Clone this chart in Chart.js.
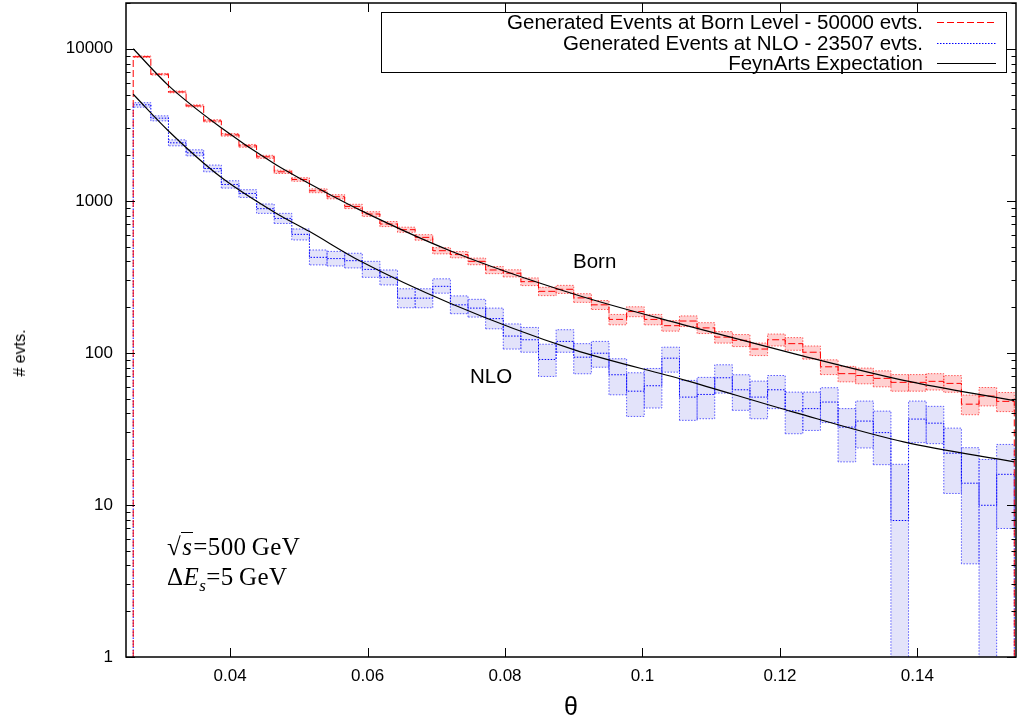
<!DOCTYPE html>
<html>
<head>
<meta charset="utf-8">
<script src="https://cdn.jsdelivr.net/npm/chart.js@4"></script>
<style>
    html, body { margin: 0; padding: 0; background: #fff; }
    #wrap { position: relative; width: 1017px; height: 725px; overflow: hidden; }
    #chart { position: absolute; left: 0; top: 0; }
    .txt { position: absolute; font-family: "Liberation Sans", Arial, sans-serif; font-size: 20.5px; line-height: 20px; color: #000; white-space: nowrap; }
    .tex { position: absolute; font-family: "Liberation Serif", "DejaVu Serif", serif; font-size: 25px; line-height: 26px; letter-spacing: 0.4px; color: #000; white-space: nowrap; }
    .ov { border-top: 1px solid #000; font-style: italic; padding: 0 1px; }
    #legendBox { position: absolute; left: 381px; top: 12px; width: 626px; height: 61px; box-sizing: border-box; border: 1.5px solid #000; background: #fff; }
    .legText { position: absolute; right: 94px; text-align: right; }
    #yTitle { position: absolute; left: 20px; top: 353px; transform: translate(-50%, -50%) rotate(-90deg); font-family: "Liberation Sans", Arial, sans-serif; font-size: 16px; white-space: nowrap; }
</style>
</head>
<body>
<div id="wrap">
    <canvas id="chart" width="1017" height="725"></canvas>
    <div id="legendBox"></div>
    <div class="txt legText" style="top:12px">Generated Events at Born Level - 50000 evts.</div>
    <div class="txt legText" style="top:33px">Generated Events at NLO - 23507 evts.</div>
    <div class="txt legText" style="top:53px">FeynArts Expectation</div>
    <svg style="position:absolute;left:935px;top:12px" width="64" height="60">
        <line x1="2" y1="10.5" x2="61" y2="10.5" stroke="#ff0000" stroke-width="1" stroke-dasharray="7 3"></line>
        <line x1="2" y1="31.5" x2="61" y2="31.5" stroke="#0000ff" stroke-width="1" stroke-dasharray="1.5 1.5"></line>
        <line x1="2" y1="51.5" x2="61" y2="51.5" stroke="#000" stroke-width="1"></line>
    </svg>
    <div class="txt" style="left:573px;top:251px">Born</div>
    <div class="txt" style="left:470px;top:366px">NLO</div>
    <div class="tex" style="left:167px;top:534px">&radic;<span class="ov">s</span>=500&thinsp;GeV</div>
    <div class="tex" style="left:167px;top:564px">&Delta;<i>E<sub style="font-size:17px">s</sub></i>=5&thinsp;GeV</div>
    <div id="yTitle"># evts.</div>
</div>
<script>
// histogram binning in theta
const thetaMin = 0.0259;
const thetaMax = 0.1541;
const nBins = 50;

// Born level histogram (events per bin) and its errors
const bornVal = [8870, 6800, 5205, 4212, 3357, 2717, 2300, 1948, 1552, 1382,
    1165, 1064, 919, 819, 704, 646, 575, 470, 443, 400,
    351, 334, 294, 254, 262, 230, 207, 166, 187, 166,
    151, 162, 146, 127, 121, 106, 122, 115, 101, 81,
    73, 71, 68, 64, 64, 65, 63, 46, 52, 48];
const bornErr = [94, 82, 72, 65, 58, 52, 48, 44, 39, 37,
    34, 33, 30, 29, 27, 25, 24, 22, 21, 20,
    19, 18, 17, 16, 16, 15, 14, 13, 14, 13,
    12, 13, 12, 11, 11, 10, 11, 11, 10, 9,
    8.5, 8.4, 8.2, 8, 8, 8, 7.9, 6.8, 7.2, 6.9];

// NLO histogram: value, lower and upper edge of the error band
const nloVal = [4280, 3497, 2407, 2069, 1632, 1281, 1118, 888, 766, 602,
    425, 417, 404, 354, 314, 229, 229, 274, 207, 197,
    168, 129, 122, 90.5, 119, 93.7, 99.5, 71.8, 56, 60.8,
    92.3, 51.2, 53.3, 68.6, 57.2, 51.2, 57.2, 41.6, 43, 47.5,
    32.5, 35.6, 29.9, 7.9, 36.7, 34.5, 21.9, 13.9, 9.95, 15.9];
const nloLo = [4130, 3357, 2300, 1977, 1552, 1213, 1053, 827, 710, 553,
    379, 373, 362, 314, 280, 198, 198, 247, 181, 172,
    144, 106, 101, 70, 101, 72.9, 80.5, 53, 38.2, 43.4,
    74.7, 36, 36.9, 54.4, 41.9, 36.9, 43, 29.4, 30.9, 34.8,
    19.2, 23.7, 18.4, 0.5, 25.7, 25.3, 11.9, 4.1, 0.5, 7];
const nloHi = [4420, 3622, 2518, 2165, 1718, 1355, 1183, 953, 827, 653,
    475, 465, 452, 400, 351, 264, 264, 307, 237, 225,
    197, 155, 147, 114, 142, 115, 119, 91.5, 74, 79,
    109, 65.9, 69, 83.5, 71.8, 65.2, 71, 55.2, 55.2, 59,
    43, 48.2, 41.4, 18.5, 48.2, 44.5, 32, 23.8, 19.9, 25];

// FeynArts expectation curves
const curveTheta = [0.0259, 0.031, 0.0385, 0.0465, 0.0515, 0.059, 0.072, 0.09, 0.106, 0.122, 0.138, 0.1541];
const bornCurve = [10000, 5750, 3070, 1744, 1300, 865, 470, 244, 153, 99, 66, 48.5];
const nloCurve = [5020, 2890, 1450, 839, 630, 400, 212, 105, 66.5, 40.8, 26, 19.2];

// axes
const xTicks = [0.04, 0.06, 0.08, 0.1, 0.12, 0.14];
const xTickLabels = ['0.04', '0.06', '0.08', '0.1', '0.12', '0.14'];
const yTicks = [1, 10, 100, 1000, 10000];
const yTickLabels = ['1', '10', '100', '1000', '10000'];
const xMin = 0.02485, xMax = 0.15435;
const yMin = 1, yMax = 20000;

const binWidth = (thetaMax - thetaMin) / nBins;
const edges = [];
for (let i = 0; i <= nBins; i++) edges.push(thetaMin + i * binWidth);

function boxPoints(lo, hi) {
    const pts = [];
    for (let i = 0; i < lo.length; i++) {
        const x0 = edges[i], x1 = edges[i + 1];
        pts.push({ x: x0, y: lo[i] }, { x: x0, y: hi[i] }, { x: x1, y: hi[i] }, { x: x1, y: lo[i] }, { x: x0, y: lo[i] }, { x: x1, y: null });
    }
    return pts;
}

function stepPoints(vals) {
    const pts = [{ x: edges[0], y: yMin }];
    vals.forEach((v, i) => pts.push({ x: edges[i], y: v }));
    pts.push({ x: edges[vals.length], y: vals[vals.length - 1] }, { x: edges[vals.length], y: yMin });
    return pts;
}

const fontFamily = '"Liberation Sans", Arial, sans-serif';

// inward tick marks on all four sides plus the frame
const frameTicks = {
    id: 'frameTicks',
    afterDraw(chart) {
        const { ctx, chartArea: a, scales: { x, y } } = chart;
        ctx.save();
        ctx.strokeStyle = '#000';
        ctx.lineWidth = 1;
        ctx.beginPath();
        for (const v of xTicks) {
            const px = Math.round(x.getPixelForValue(v)) + 0.5;
            ctx.moveTo(px, a.bottom);
            ctx.lineTo(px, a.bottom - 9);
            ctx.moveTo(px, a.top);
            ctx.lineTo(px, a.top + 9);
        }
        for (let d = 0; d <= 4; d++) {
            for (let m = 1; m <= 9; m++) {
                const v = m * Math.pow(10, d);
                if (v > yMax) continue;
                const py = Math.round(y.getPixelForValue(v)) + 0.5;
                const len = m === 1 ? 9 : 4.5;
                ctx.moveTo(a.left, py);
                ctx.lineTo(a.left + len, py);
                ctx.moveTo(a.right, py);
                ctx.lineTo(a.right - len, py);
            }
        }
        ctx.stroke();
        ctx.lineWidth = 1.5;
        ctx.strokeRect(a.left, a.top, a.right - a.left, a.bottom - a.top);
        ctx.restore();
    },
};

Chart.defaults.color = '#000';
Chart.defaults.font.family = fontFamily;

new Chart(document.getElementById('chart'), {
    type: 'line',
    data: {
        datasets: [
            {
                label: 'Born band',
                data: boxPoints(bornVal.map((v, i) => v - bornErr[i]), bornVal.map((v, i) => v + bornErr[i])),
                borderColor: 'rgba(255, 40, 40, 0.75)',
                backgroundColor: 'rgba(255, 170, 170, 0.55)',
                borderWidth: 1,
                borderDash: [1.5, 1.5],
                fill: 'shape',
                spanGaps: false,
                pointRadius: 0,
                order: 3,
            },
            {
                label: 'NLO band',
                data: boxPoints(nloLo, nloHi),
                borderColor: 'rgba(40, 40, 255, 0.75)',
                backgroundColor: 'rgba(200, 200, 245, 0.5)',
                borderWidth: 1,
                borderDash: [1.5, 1.5],
                fill: 'shape',
                spanGaps: false,
                pointRadius: 0,
                order: 2,
            },
            {
                label: 'Generated Events at Born Level - 50000 evts.',
                data: stepPoints(bornVal),
                borderColor: '#ff0000',
                borderWidth: 1,
                borderDash: [7, 3],
                stepped: true,
                pointRadius: 0,
                order: 1,
            },
            {
                label: 'Generated Events at NLO - 23507 evts.',
                data: stepPoints(nloVal),
                borderColor: '#0000ff',
                borderWidth: 1,
                borderDash: [1.5, 1.5],
                stepped: true,
                pointRadius: 0,
                order: 1,
            },
            {
                label: 'FeynArts Expectation',
                data: curveTheta.map((t, i) => ({ x: t, y: bornCurve[i] })),
                borderColor: '#000',
                borderWidth: 1.2,
                cubicInterpolationMode: 'monotone',
                pointRadius: 0,
                order: 0,
            },
            {
                label: 'FeynArts Expectation NLO',
                data: curveTheta.map((t, i) => ({ x: t, y: nloCurve[i] })),
                borderColor: '#000',
                borderWidth: 1.2,
                cubicInterpolationMode: 'monotone',
                pointRadius: 0,
                order: 0,
            },
        ],
    },
    options: {
        responsive: false,
        animation: false,
        devicePixelRatio: 1,
        layout: { padding: { top: 3, right: 1, left: 0, bottom: 0 } },
        plugins: {
            legend: { display: false },
            tooltip: { enabled: false },
        },
        scales: {
            x: {
                type: 'linear',
                min: xMin,
                max: xMax,
                afterBuildTicks: (s) => { s.ticks = xTicks.map((v) => ({ value: v })); },
                afterFit: (s) => { s.height = 68; s.paddingLeft = 0; s.paddingRight = 0; },
                ticks: {
                    padding: 9,
                    font: { size: 17 },
                    maxRotation: 0,
                    autoSkip: false,
                    callback: (value, index) => xTickLabels[index],
                },
                grid: { display: false, drawTicks: false },
                border: { display: false },
                title: {
                    display: true,
                    text: 'θ',
                    font: { size: 25 },
                    padding: { top: 0, bottom: 2 },
                },
            },
            y: {
                type: 'logarithmic',
                min: yMin,
                max: yMax,
                afterBuildTicks: (s) => { s.ticks = yTicks.map((v) => ({ value: v })); },
                afterFit: (s) => { s.width = 126; s.paddingTop = 0; s.paddingBottom = 0; },
                ticks: {
                    padding: 13,
                    font: { size: 17 },
                    autoSkip: false,
                    callback: (value, index) => yTickLabels[index],
                },
                grid: { display: false, drawTicks: false },
                border: { display: false },
            },
        },
    },
    plugins: [frameTicks],
});
</script>
</body>
</html>
